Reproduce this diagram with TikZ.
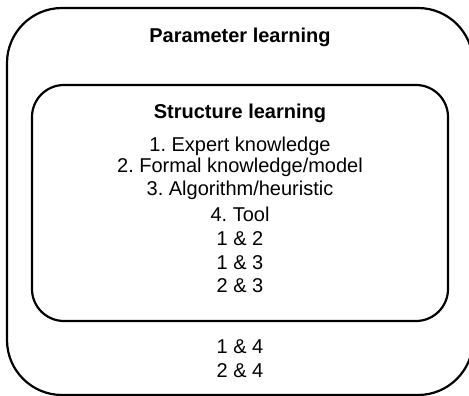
\documentclass[tikz,border=0pt]{standalone}
\usepackage{fontspec}
\setmainfont{Liberation Sans}
\tikzset{
  box/.style={draw=black, line width=2.2pt},
  txt/.style={anchor=base, inner sep=0pt, font=\fontsize{20}{24}\selectfont\frenchspacing},
  ttl/.style={txt, font=\fontsize{20}{24}\selectfont\bfseries},
}
\begin{document}
\begin{tikzpicture}[x=1pt, y=-1pt]
\useasboundingbox (0,0) rectangle (469,396);
\clip (0,0) rectangle (469,396);
\draw[box, rounded corners=55pt] (7,8) rectangle (473,395);
\draw[box, rounded corners=32pt] (32,85) rectangle (448,321);
\node[ttl] (param) at (240,43) {Parameter learning};
\node[ttl] (struct) at (240,118) {Structure learning};
\node[txt] (l1) at (240,151) {1. Expert knowledge};
\node[txt] (l2) at (240,172) {2. Formal knowledge/model};
\node[txt] (l3) at (240,195) {3. Algorithm/heuristic};
\node[txt] (l4) at (240,221) {4. Tool};
\node[txt] (c12) at (240,245) {1 \& 2};
\node[txt] (c13) at (240,269) {1 \& 3};
\node[txt] (c23) at (240,292) {2 \& 3};
\node[txt] (c14) at (240,353) {1 \& 4};
\node[txt] (c24) at (240,377) {2 \& 4};
\end{tikzpicture}
\end{document}
